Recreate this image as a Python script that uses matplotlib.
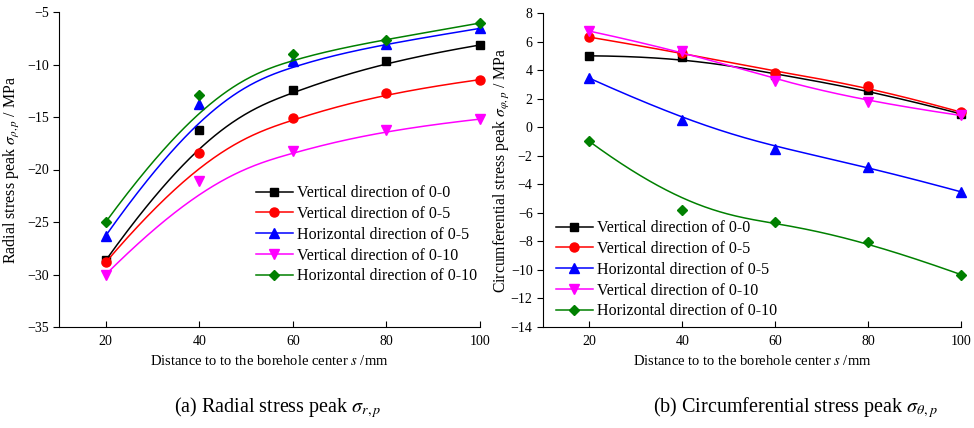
import numpy as np
import matplotlib
matplotlib.use("Agg")
import matplotlib.pyplot as plt

plt.rcParams['font.family'] = ['Liberation Serif', 'DejaVu Serif']
plt.rcParams['mathtext.fontset'] = 'stix'

# distance to borehole centre, mm
distance = [20, 40, 60, 80, 100]

series_names = [
    "Vertical direction of 0-0",
    "Vertical direction of 0-5",
    "Horizontal direction of 0-5",
    "Vertical direction of 0-10",
    "Horizontal direction of 0-10",
]

# radial stress peak, MPa
radial_v00 = [-28.65, -16.2, -12.46, -9.67, -8.14]
radial_v05 = [-28.84, -18.4, -15.06, -12.68, -11.44]
radial_h05 = [-26.3, -13.73, -9.67, -8.02, -6.56]
radial_v010 = [-30.0, -21.13, -18.24, -16.2, -15.2]
radial_h010 = [-25.0, -12.87, -9.03, -7.63, -6.05]

# circumferential stress peak, MPa
circ_v00 = [5.0, 4.95, 3.69, 2.62, 0.93]
circ_v05 = [6.31, 5.21, 3.83, 2.87, 1.05]
circ_h05 = [3.43, 0.51, -1.5, -2.76, -4.53]
circ_v010 = [6.73, 5.33, 3.27, 1.78, 0.82]
circ_h010 = [-1.0, -5.77, -6.61, -8.01, -10.33]

colors = ['black', 'red', 'blue', 'magenta', 'green']
markers = ['s', 'o', '^', 'v', 'D']
msizes = [5.5, 6.5, 6.5, 6.5, 5.5]


def bspline(x, y, k=3, n=300):
    # clamped B-spline using the data points as control points
    P = np.column_stack([x, y]).astype(float)
    m = len(P)
    inner = np.linspace(0, 1, m - k + 1)[1:-1]
    t = np.concatenate([np.zeros(k + 1), inner, np.ones(k + 1)])
    u = np.linspace(0, 1, n)
    u[-1] -= 1e-12
    # Cox-de Boor recursion
    N = np.array([((t[i] <= u) & (u < t[i + 1])).astype(float)
                  for i in range(len(t) - 1)])
    for d in range(1, k + 1):
        Nn = np.zeros((len(t) - 1 - d, n))
        for i in range(len(t) - 1 - d):
            a = t[i + d] - t[i]
            b = t[i + d + 1] - t[i + 1]
            if a > 0:
                Nn[i] += (u - t[i]) / a * N[i]
            if b > 0:
                Nn[i] += (t[i + d + 1] - u) / b * N[i + 1]
        N = Nn
    C = N.T @ P
    return C[:, 0], C[:, 1]


def style_axes(ax):
    for s in ['top', 'right']:
        ax.spines[s].set_visible(False)
    ax.tick_params(axis='x', direction='in', length=4, labelsize=10, pad=6)
    ax.tick_params(axis='y', direction='out', length=4, labelsize=10)
    ax.set_xlim(10, 100)
    ax.set_xticks(distance)
    ax.set_xlabel("Distance to to the borehole center $s$ /mm", fontsize=10.5)


def draw(ax, data):
    for vals, name, c, m, ms in zip(data, series_names, colors, markers, msizes):
        xs, ys = bspline(distance, vals)
        ax.plot(xs, ys, color=c, lw=1.1)
        ax.plot(distance, vals, linestyle='none', marker=m, color=c, ms=ms,
                clip_on=False)
        ax.plot([], [], color=c, lw=1.1, marker=m, ms=ms, label=name)


legend_kw = dict(frameon=False, fontsize=11.5, handlelength=2.3,
                 handletextpad=0.25, labelspacing=0.3, borderaxespad=0.0,
                 borderpad=0.0)

fig = plt.figure(figsize=(9.74, 4.28), dpi=100)

ax1 = fig.add_axes([59 / 974, 1 - 327 / 428, (480 - 59) / 974, (327 - 12) / 428])
draw(ax1, [radial_v00, radial_v05, radial_h05, radial_v010, radial_h010])
style_axes(ax1)
ax1.set_ylim(-35, -5)
ax1.set_yticks(np.arange(-35, -4, 5))
ax1.set_ylabel(r"Radial stress peak $\sigma_{\rho,p}$ / MPa", fontsize=11.5)
ax1.yaxis.set_label_coords(-0.088, 0.5)
ax1.legend(loc='upper left', bbox_to_anchor=(0.468, 0.45), **legend_kw)

ax2 = fig.add_axes([543 / 974, 1 - 327 / 428, (961 - 543) / 974, (327 - 13) / 428])
draw(ax2, [circ_v00, circ_v05, circ_h05, circ_v010, circ_h010])
style_axes(ax2)
ax2.set_ylim(-14, 8)
ax2.set_yticks(np.arange(-14, 9, 2))
ax2.set_ylabel(r"Circumferential stress peak $\sigma_{\varphi,p}$ / MPa",
               fontsize=11.3)
ax2.yaxis.set_label_coords(-0.074, 0.5)
ax2.legend(loc='upper left', bbox_to_anchor=(0.031, 0.34), **legend_kw)

fig.text(278 / 974, 1 - 408 / 428, r"(a) Radial stress peak $\sigma_{r,p}$",
         ha='center', va='center', fontsize=14.5)
fig.text(795 / 974, 1 - 408 / 428,
         r"(b) Circumferential stress peak $\sigma_{\theta,p}$",
         ha='center', va='center', fontsize=14.5)

fig.savefig("out.png", dpi=100)
